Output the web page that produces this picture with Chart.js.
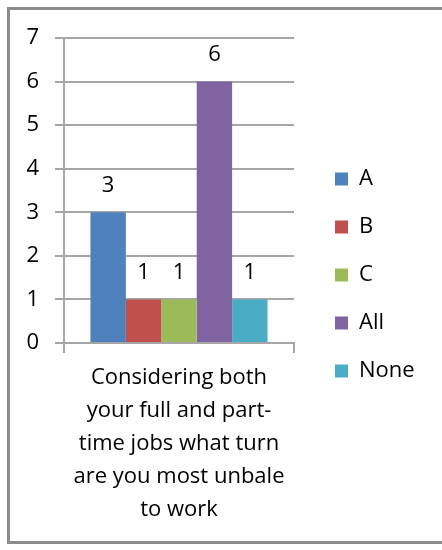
<!DOCTYPE html>
<html lang="en">
<head>
    <meta charset="UTF-8">
    <title>Turn most unable to work</title>
    <script src="https://cdn.jsdelivr.net/npm/chart.js@4.4.0/dist/chart.umd.min.js"></script>
    <style>
        body { margin: 0; background: #fff; }
        #frame {
            position: absolute;
            left: 7px;
            top: 7px;
            width: 460px;
            height: 531px;
            border: 3px solid #8c8c8c;
        }
        #myChart { position: absolute; left: 0; top: 0; }
    </style>
</head>
<body>
<div id="frame"></div>
<canvas id="myChart" width="442" height="550"></canvas>

<script>
    const categories = [['Considering both', 'your full and part-', 'time jobs what turn', 'are you most unbale', 'to work']];
    const seriesNames = ['A', 'B', 'C', 'All', 'None'];
    const seriesValues = [[3], [1], [1], [6], [1]];
    const seriesColors = ['#4F81BD', '#C0504D', '#9BBB59', '#8064A2', '#4BACC6'];
    const yTicks = [0, 1, 2, 3, 4, 5, 6, 7];

    const fontFamily = '"Open Sans", "Noto Sans", sans-serif';
    const textColor = '#000000';
    const gridColor = '#a6a6a6';

    // value labels above each bar
    const valueLabels = {
        id: 'valueLabels',
        afterDatasetsDraw(chart) {
            const ctx = chart.ctx;
            ctx.save();
            ctx.font = '22px ' + fontFamily;
            ctx.fillStyle = textColor;
            ctx.textAlign = 'center';
            ctx.textBaseline = 'middle';
            chart.data.datasets.forEach((ds, i) => {
                const meta = chart.getDatasetMeta(i);
                meta.data.forEach((bar, j) => {
                    ctx.fillText(String(ds.data[j]), bar.x, bar.y - 27);
                });
            });
            ctx.restore();
        }
    };

    const ctx = document.getElementById('myChart').getContext('2d');
    new Chart(ctx, {
        type: 'bar',
        data: {
            labels: categories,
            datasets: seriesNames.map((name, i) => ({
                label: name,
                data: seriesValues[i],
                backgroundColor: seriesColors[i],
                borderWidth: 0,
                categoryPercentage: 0.77,
                barPercentage: 1.0
            }))
        },
        options: {
            responsive: false,
            animation: false,
            layout: {
                padding: { left: 10, right: 21, top: 10, bottom: 10 }
            },
            scales: {
                x: {
                    offset: true,
                    grid: {
                        display: true,
                        drawOnChartArea: false,
                        drawTicks: true,
                        tickLength: 10,
                        color: gridColor,
                        lineWidth: 2
                    },
                    border: { display: true, color: gridColor, width: 2 },
                    ticks: {
                        color: textColor,
                        padding: 8,
                        maxRotation: 0,
                        font: { family: fontFamily, size: 22, lineHeight: 1.5 }
                    },
                    afterFit(scale) { scale.height = 197; }
                },
                y: {
                    min: 0,
                    max: 7,
                    afterBuildTicks(scale) { scale.ticks = yTicks.map(v => ({ value: v })); },
                    grid: {
                        color: gridColor,
                        lineWidth: 2,
                        tickLength: 9
                    },
                    border: { display: true, color: gridColor, width: 2 },
                    ticks: {
                        color: textColor,
                        padding: 16,
                        font: { family: fontFamily, size: 22 }
                    },
                    afterFit(scale) { scale.width = 54; }
                },
                // empty spacers to place the plot area like the original
                spacerRight: {
                    type: 'linear',
                    position: 'right',
                    display: true,
                    grid: { display: false, drawTicks: false },
                    border: { display: false },
                    ticks: { display: false },
                    afterFit(scale) { scale.width = 15; }
                },
                spacerTop: {
                    type: 'linear',
                    position: 'top',
                    display: true,
                    grid: { display: false, drawTicks: false },
                    border: { display: false },
                    ticks: { display: false },
                    afterFit(scale) { scale.height = 28; }
                }
            },
            plugins: {
                legend: {
                    position: 'right',
                    maxWidth: 112,
                    labels: {
                        boxWidth: 13,
                        boxHeight: 13,
                        padding: 26,
                        color: textColor,
                        font: { family: fontFamily, size: 22 }
                    }
                },
                tooltip: { enabled: false }
            }
        },
        plugins: [valueLabels]
    });
</script>
</body>
</html>
